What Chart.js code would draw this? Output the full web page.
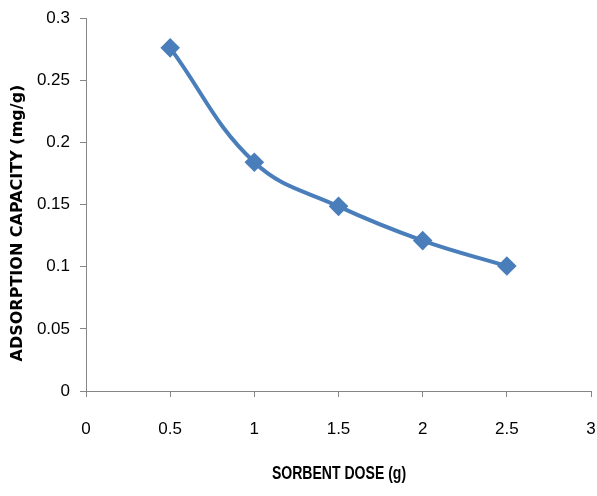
<!DOCTYPE html>
<html>
<head>
<meta charset="utf-8">
<script src="https://cdn.jsdelivr.net/npm/chart.js@4"></script>
<style>
  html, body { margin: 0; padding: 0; background: #fff; }
  #wrap { width: 597px; height: 496px; }
</style>
</head>
<body>
<div id="wrap"><canvas id="chart"></canvas></div>
<script>
// sorbent dose (g) vs adsorption capacity (mg/g)
const doses      = [0.5, 1, 1.5, 2, 2.5];
const capacities = [0.276, 0.184, 0.1485, 0.121, 0.1005];
const xTicks     = [0, 0.5, 1, 1.5, 2, 2.5, 3];
const yTicks     = [0, 0.05, 0.1, 0.15, 0.2, 0.25, 0.3];
const xTitle     = 'SORBENT DOSE (g)';
const yTitle     = 'ADSORPTION CAPACITY (mg/g)';

const axisCol  = '#868686';
const tickFont = { family: "'Liberation Sans', Arial, sans-serif", size: 17 };

// axis titles drawn where the original puts them
const titles = {
  id: 'titles',
  afterDraw(chart) {
    const c = chart.ctx;
    c.save();
    c.fillStyle = '#000';
    c.textAlign = 'center';
    c.textBaseline = 'middle';
    c.save();
    c.translate(339, 474);
    c.scale(0.78, 1);   // narrow, like the original's condensed face
    c.font = "bold 18px 'Liberation Sans', Arial, sans-serif";
    c.fillText(xTitle, 0, 0);
    c.restore();
    c.translate(18, 223);
    c.rotate(-Math.PI / 2);
    c.font = "bold 16px 'DejaVu Sans', Verdana, sans-serif";
    c.fillText(yTitle, 0, 0);
    c.restore();
  }
};

new Chart(document.getElementById('chart'), {
  type: 'line',
  data: {
    datasets: [{
      data: doses.map((d, i) => ({ x: d, y: capacities[i] })),
      borderColor: '#4a7ebb',
      backgroundColor: '#4a7ebb',
      borderWidth: 4,
      tension: 0.4,
      pointStyle: 'rectRot',
      pointRadius: 7,
      pointHoverRadius: 7,
      fill: false
    }]
  },
  options: {
    responsive: true, maintainAspectRatio: false, animation: false,
    layout: { autoPadding: false, padding: { top: 18, right: 6, left: 0, bottom: 0 } },
    plugins: { legend: { display: false }, tooltip: { enabled: false } },
    scales: {
      x: {
        type: 'linear', min: 0, max: 3,
        afterBuildTicks: s => { s.ticks = xTicks.map(v => ({ value: v })); },
        afterFit: s => { s.height = 105; s.paddingLeft = 0; s.paddingRight = 0; },
        grid: { drawOnChartArea: false, drawTicks: true, tickLength: 6, color: axisCol, tickColor: axisCol, tickWidth: 1 },
        border: { color: axisCol, width: 1 },
        ticks: { color: '#000', font: tickFont, padding: 22, maxRotation: 0, callback: v => String(v) }
      },
      y: {
        min: 0, max: 0.3,
        afterBuildTicks: s => { s.ticks = yTicks.map(v => ({ value: v })); },
        afterFit: s => { s.width = 86; s.paddingTop = 0; s.paddingBottom = 0; },
        grid: { drawOnChartArea: false, drawTicks: true, tickLength: 6, color: axisCol, tickColor: axisCol, tickWidth: 1 },
        border: { color: axisCol, width: 1 },
        ticks: { color: '#000', font: tickFont, padding: 10, callback: v => String(v) }
      }
    }
  },
  plugins: [titles]
});
</script>
</body>
</html>
